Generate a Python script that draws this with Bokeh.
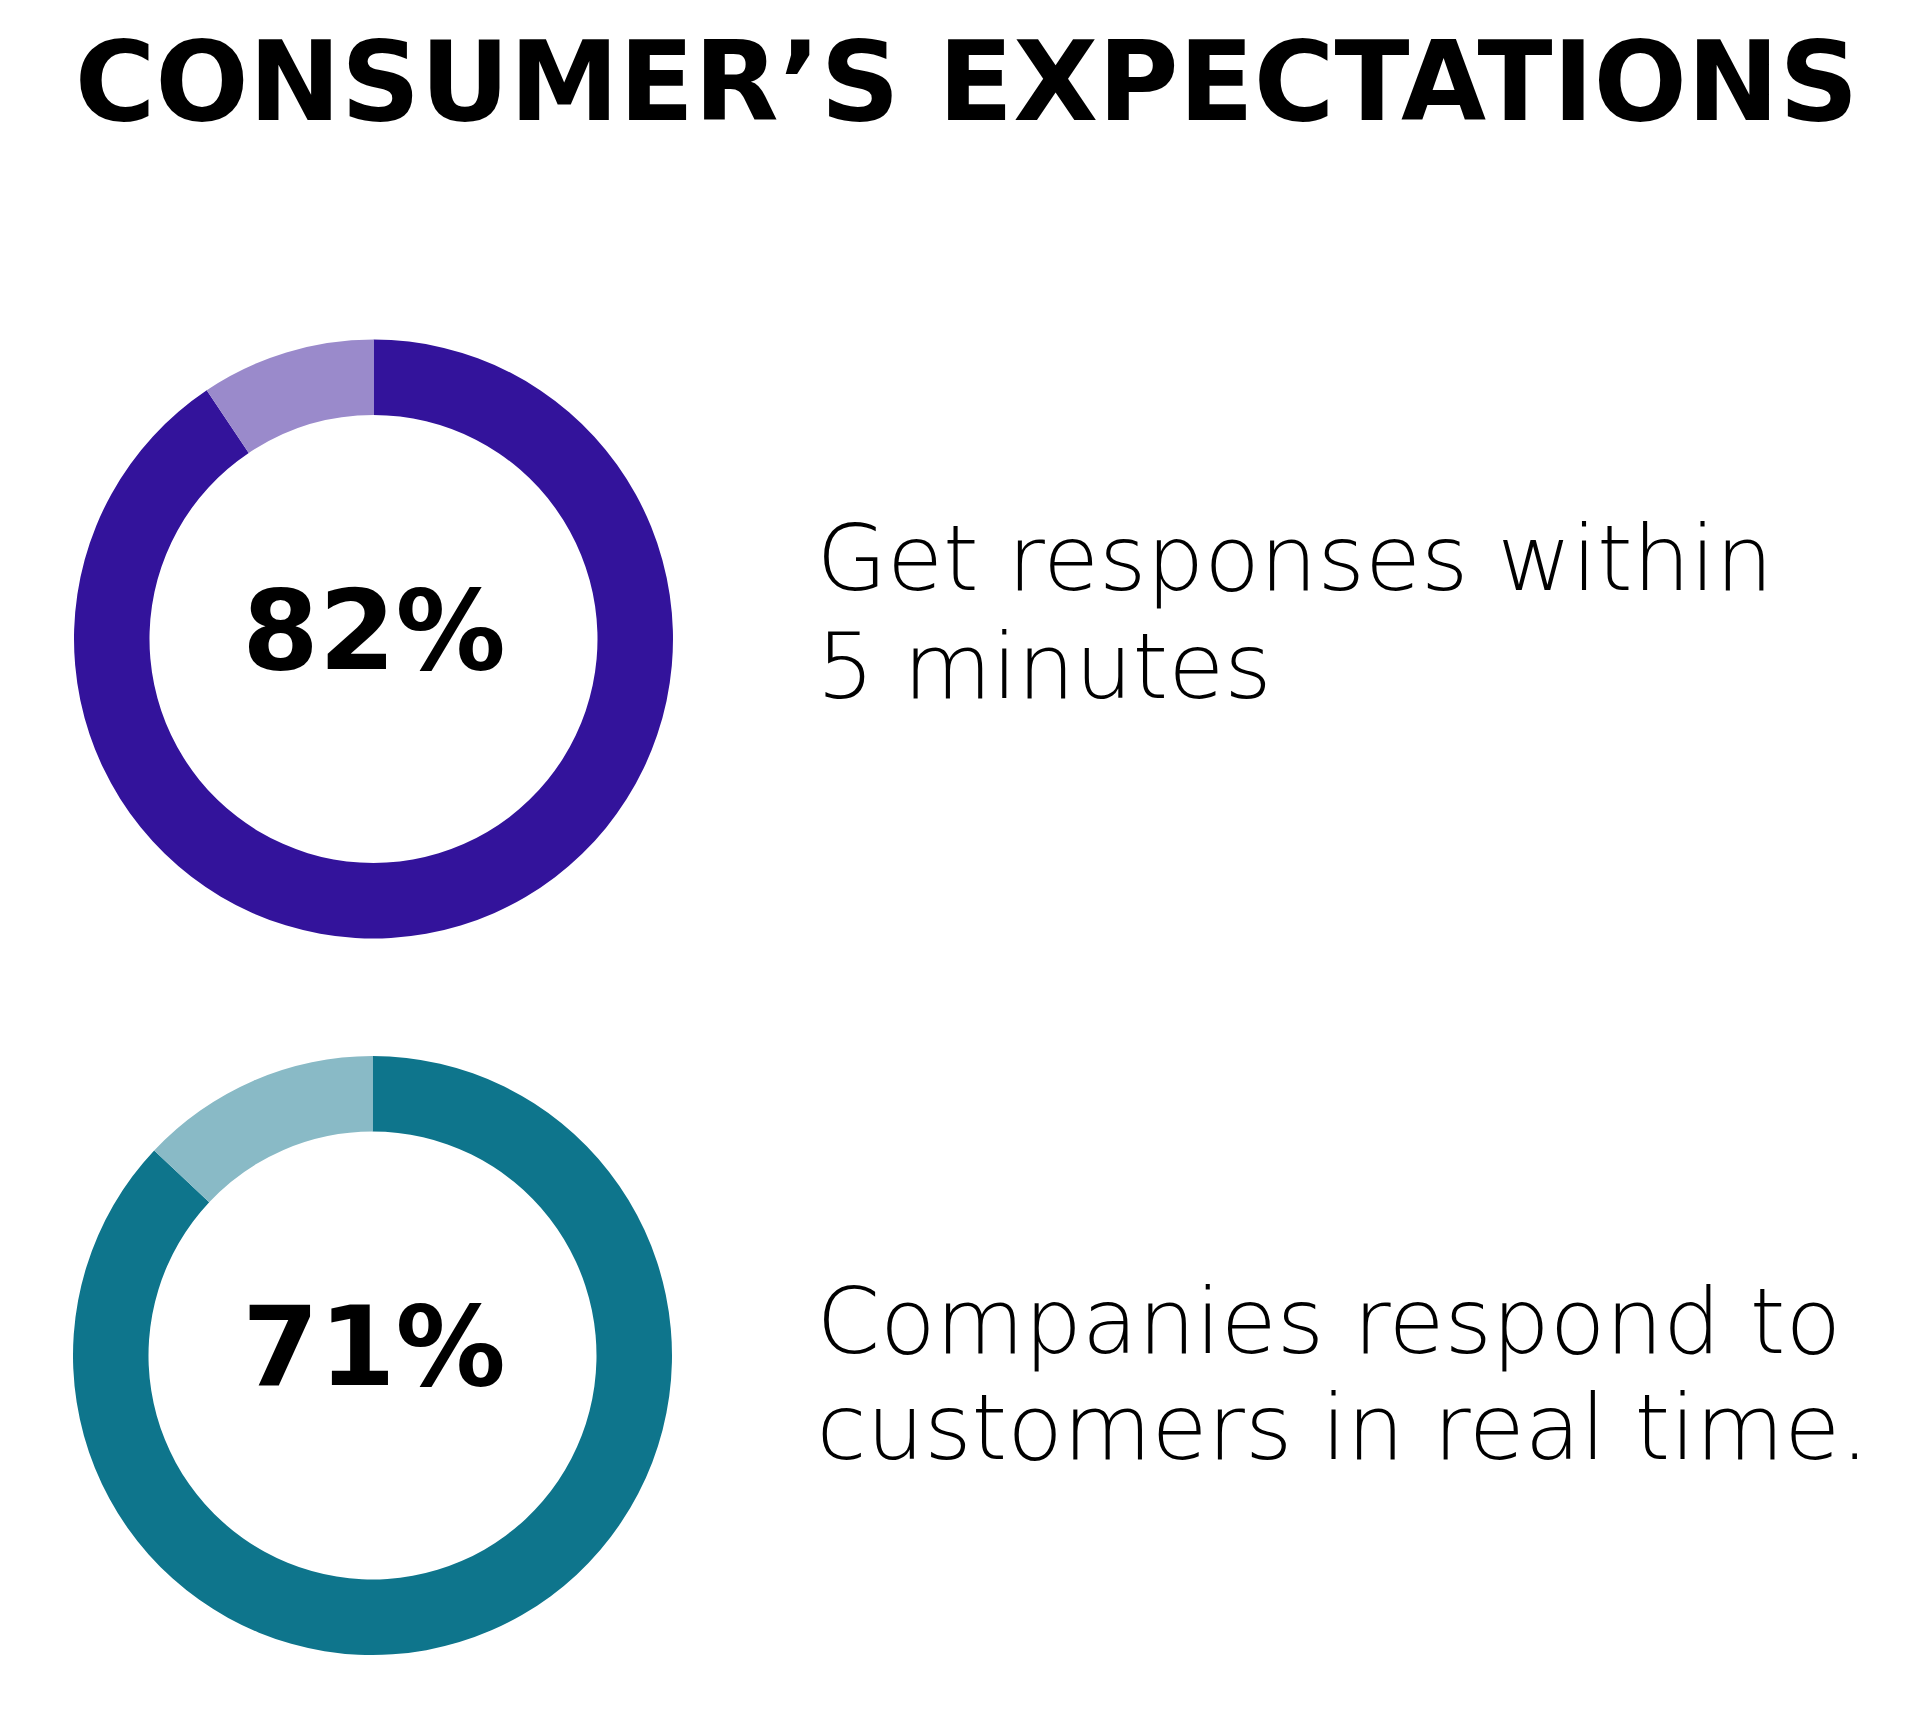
import math
from bokeh.plotting import figure
from bokeh.models import Range1d
from bokeh.core.properties import value
from bokeh.embed import file_html
from bokeh.resources import INLINE

# ---------------- data ----------------
title_text = "CONSUMER\u2019S EXPECTATIONS"
pct_labels = ["82%", "71%"]
# share of the ring drawn in the dark colour
ring_share = [90.6, 87.0]
descriptions = [
    ["Get responses within", "5 minutes"],
    ["Companies respond to", "customers in real time."],
]
dark_colors = ["#33139B", "#0E758C"]
light_colors = ["#9A8ACB", "#89BAC6"]

# ---------------- layout ----------------
W, H = 1904, 1704
p = figure(width=W, height=H, x_range=Range1d(0, W), y_range=Range1d(0, H),
           output_backend="svg", toolbar_location=None, min_border=0)
p.axis.visible = False
p.xgrid.visible = False
p.ygrid.visible = False
p.outline_line_color = None
p.background_fill_color = "white"
p.border_fill_color = "white"


def Y(screen_y):
    return H - screen_y


centers = [(373, 638.5), (372, 1355)]
r_out, r_in = 299.5, 224
pct_x = [373.5, 373.5]
pct_baselines = [630.5, 1346.5]
desc_x = 816
desc_baselines = [[558, 666], [1321, 1427]]

for i in range(2):
    cx, cy = centers[i]
    dark = ring_share[i] / 100.0
    top = math.pi / 2
    # dark part: clockwise from the top
    p.annular_wedge(x=cx, y=Y(cy), inner_radius=r_in, outer_radius=r_out,
                    start_angle=top - 2 * math.pi * dark, end_angle=top,
                    direction="anticlock", fill_color=dark_colors[i],
                    line_color=None)
    # remainder
    p.annular_wedge(x=cx, y=Y(cy), inner_radius=r_in, outer_radius=r_out,
                    start_angle=top, end_angle=top + 2 * math.pi * (1 - dark),
                    direction="anticlock", fill_color=light_colors[i],
                    line_color=None)
    p.text(x=[pct_x[i]], y=[Y(pct_baselines[i])], text=[pct_labels[i]],
           text_font=value("DejaVu Sans"), text_font_style="bold",
           text_font_size="110px", text_align="center",
           text_baseline="alphabetic", text_color="black")
    for line, by in zip(descriptions[i], desc_baselines[i]):
        p.text(x=[desc_x], y=[Y(by)], text=[line],
               text_font=value("'DejaVu Sans Light', 'DejaVu Sans'"),
               text_font_size="91px", text_align="left",
               text_baseline="alphabetic", text_color="black")

p.text(x=[966], y=[Y(81)], text=[title_text],
       text_font=value("DejaVu Sans"), text_font_style="bold",
       text_font_size="110px", text_align="center",
       text_baseline="alphabetic", text_color="black")

open("out.html", "w").write(file_html(p, INLINE))
